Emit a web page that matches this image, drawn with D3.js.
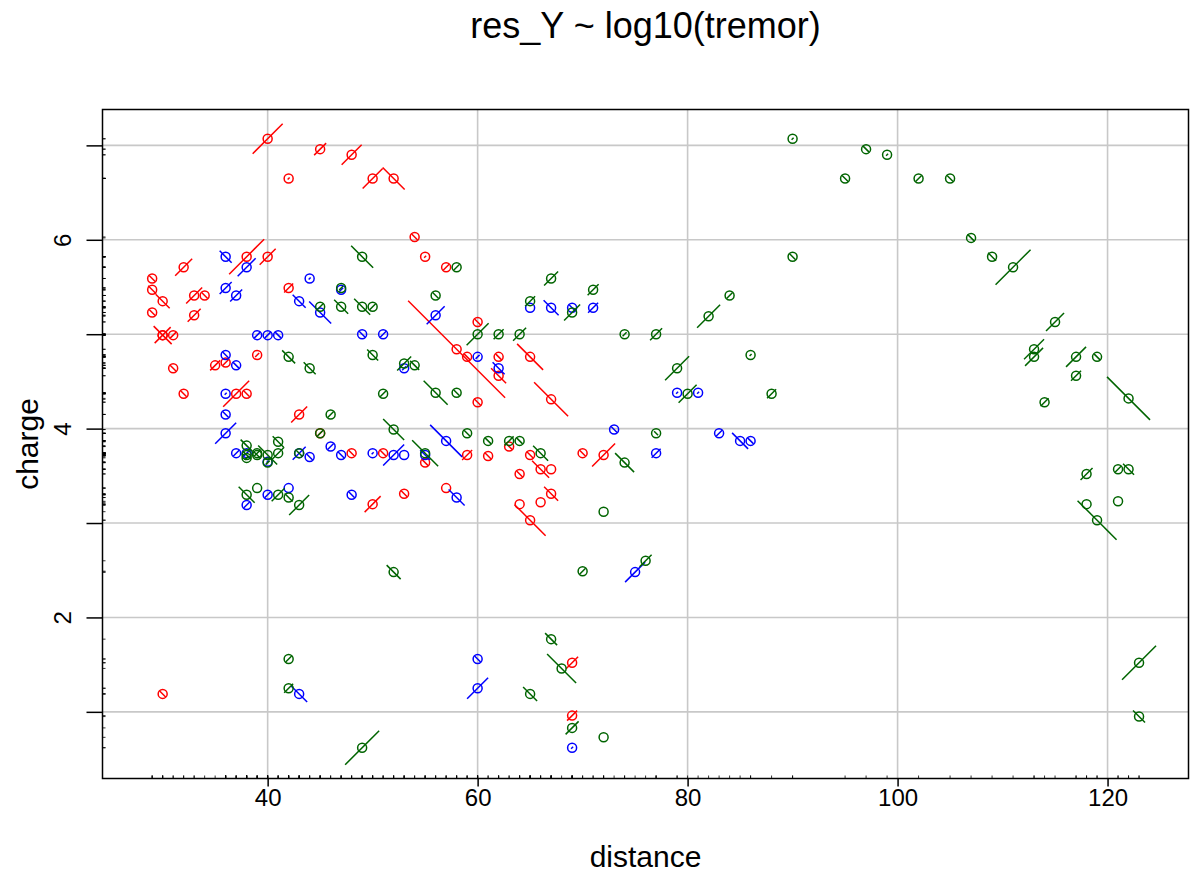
<!DOCTYPE html>
<html>
<head>
<meta charset="utf-8">
<script src="https://cdn.jsdelivr.net/npm/d3@7"></script>
<style>
  body { margin: 0; background: #fff; }
  svg { font-family: "Liberation Sans", Arial, sans-serif; }
</style>
</head>
<body>
<script>
let width = 1194,
    height = 872,
    margin = ({top: 109.5, right: 5.5, bottom: 93.5, left: 102.5});

// [distance, charge, residual]
let seriesRed = [
  [40, 7.07, 1.5], [45, 6.96, 0.6], [48, 6.90, 1.0], [42, 6.65, 0.1], [50, 6.65, 1.0],
  [52, 6.65, -1.1], [54, 6.03, -0.3], [55, 5.82, 0.1], [57, 5.71, 0.3], [38, 5.82, 1.75],
  [40, 5.82, 0.8], [32, 5.71, 0.85], [29, 5.59, -0.3], [29, 5.47, -0.4], [30, 5.35, -0.7],
  [29, 5.23, -0.3], [33, 5.41, 0.8], [34, 5.41, -0.3], [33, 5.20, 0.65], [42, 5.49, 0.45],
  [60, 5.13, -0.3], [30, 4.99, 0.8], [30, 4.99, -0.9], [31, 4.99, 0.3], [36, 4.70, 0.3],
  [35, 4.67, 0.5], [39, 4.78, 0.2], [31, 4.64, -0.3], [32, 4.37, -0.3], [37, 4.37, 1.3],
  [38, 4.37, -0.3], [43, 4.15, 0.8], [45, 3.95, 0.2], [48, 3.74, -0.3], [50, 3.20, 0.8],
  [58, 4.84, -4.85], [59, 4.76, -0.3], [62, 4.76, -0.3], [62, 4.56, -0.75], [65, 4.76, -1.3],
  [60, 4.28, -0.35], [67, 4.31, -1.7], [59, 3.72, 0.5], [61, 3.71, -0.3], [63, 3.81, -0.3],
  [65, 3.72, -0.3], [66, 3.57, -0.85], [67, 3.57, 0], [64, 3.52, -0.3], [70, 3.74, -0.3],
  [72, 3.72, 1.15], [51, 3.74, -0.3], [55, 3.64, -0.3], [53, 3.31, -0.3], [57, 3.37, 0],
  [64, 3.20, 0], [65, 3.03, -1.55], [66, 3.22, 0], [67, 3.31, -0.7], [30, 1.19, -0.3],
  [69, 1.52, 0.6], [69, 0.96, 0.5]
];

let seriesBlue = [
  [36, 5.82, -0.6], [38, 5.71, 0.9], [44, 5.59, 0.1], [47, 5.47, 0.2], [36, 5.49, 0.6],
  [37, 5.41, 0.6], [43, 5.35, -0.65], [45, 5.23, -1.1], [39, 4.99, 0.3], [40, 4.99, 0.3],
  [41, 4.99, -0.3], [49, 5.0, -0.3], [51, 5.0, 0.3], [36, 4.78, -0.3], [37, 4.67, -0.3],
  [36, 4.37, 0.1], [36, 4.15, -0.3], [36, 3.95, 1.05], [37, 3.74, 0.3], [38, 3.74, 0.4],
  [40, 3.65, 0.1], [43, 3.74, 0.65], [44, 3.70, -0.3], [46, 3.81, 0.3], [47, 3.72, -0.3],
  [50, 3.74, 0.1], [38, 3.19, 0.3], [40, 3.30, 0.3], [42, 3.37, 0], [48, 3.30, -0.3],
  [56, 5.20, 0.9], [60, 4.76, 0.2], [62, 4.64, -0.6], [53, 4.64, 0.2], [57, 3.87, -1.6],
  [52, 3.72, 1.05], [53, 3.72, 0], [55, 3.72, -0.5], [58, 3.27, -0.8], [73, 3.99, -0.3],
  [65, 5.28, 0], [67, 5.28, -0.75], [69, 5.28, -0.3], [71, 5.28, 0.5], [79, 4.38, 0.1],
  [81, 4.38, 0.1], [77, 3.74, 0.45], [83, 3.95, 0.3], [85, 3.87, -0.8], [86, 3.87, -0.3],
  [43, 1.19, -0.8], [60, 1.56, -0.3], [60, 1.25, 1.05], [75, 2.48, 1.0], [69, 0.62, 0.1]
];

let seriesGreen = [
  [49, 5.82, -1.1], [47, 5.49, 0.2], [45, 5.29, 0.3], [47, 5.29, -0.7], [49, 5.29, -0.8],
  [50, 5.29, 0.3], [42, 4.76, -0.65], [44, 4.64, -0.6], [50, 4.78, -0.55], [51, 4.37, 0.3],
  [46, 4.15, 0.3], [45, 3.95, 0.3], [38, 3.82, -0.6], [38, 3.72, -0.4], [38, 3.69, 0.2],
  [39, 3.74, 0.3], [39, 3.72, -0.3], [40, 3.72, -0.95], [40, 3.64, 0.2], [41, 3.86, -0.55],
  [41, 3.74, 0.6], [43, 3.74, -0.3], [38, 3.30, -0.8], [39, 3.37, 0], [41, 3.30, 0.65],
  [42, 3.27, -0.4], [43, 3.19, 1.0], [60, 5.0, 1.1], [62, 5.0, 0.5], [64, 5.0, 0.65],
  [74, 5.0, 0.2], [53, 4.69, 0.7], [54, 4.67, -0.45], [56, 4.38, -1.2], [58, 4.38, -0.3],
  [52, 3.99, -1.05], [55, 3.74, -1.3], [59, 3.95, -0.3], [61, 3.87, -0.3], [63, 3.87, 0.45],
  [64, 3.87, -0.3], [66, 3.74, -0.75], [74, 3.64, -0.95], [72, 3.12, 0], [58, 5.71, 0.3],
  [56, 5.41, -0.3], [67, 5.59, 0.7], [71, 5.47, 0.55], [65, 5.35, 0.5], [69, 5.23, 0.8],
  [77, 5.0, 0.6], [82, 5.19, 1.15], [79, 4.64, 1.2], [80, 4.37, 0.9], [90, 5.82, -0.3],
  [84, 5.41, 0.3], [86, 4.78, 0.1], [88, 4.37, 0.45], [77, 3.95, -0.2], [90, 7.07, 0.1],
  [95, 6.65, -0.3], [97, 6.96, -0.3], [99, 6.90, 0.1], [102, 6.65, 0.3], [105, 6.65, -0.3],
  [107, 6.02, -0.35], [109, 5.82, -0.4], [111, 5.71, 1.75], [115, 5.13, 0.9], [113, 4.84, 1.0],
  [113, 4.76, 0.9], [117, 4.76, 1.0], [119, 4.76, -0.3], [117, 4.56, 0.5], [114, 4.28, 0.4],
  [122, 4.32, -2.15], [118, 3.52, 0.6], [121, 3.57, 0.3], [122, 3.57, -0.55], [118, 3.20, 0],
  [121, 3.23, 0], [119, 3.03, -1.95], [123, 1.52, 1.7], [123, 0.95, -0.6], [42, 1.56, 0.3],
  [42, 1.25, 0.45], [49, 0.62, 1.7], [52, 2.48, -0.7], [70, 2.49, 0.3], [76, 2.60, 0.6],
  [67, 1.77, -0.6], [68, 1.46, -1.45], [65, 1.19, -0.7], [69, 0.83, 0.65], [72, 0.73, 0]
];

let xTicks = [40, 60, 80, 100, 120];
let yTicks = [1, 2, 3, 4, 5, 6, 7];
let yLabels = [2, 4, 6];

let groups = [
  {color: "#ff0000", data: seriesRed},
  {color: "#0000ff", data: seriesBlue},
  {color: "#006400", data: seriesGreen}
];

let x = d3.scaleLinear()
    .domain([24.27, 127.71])
    .range([margin.left, width - margin.right]);

let y = d3.scaleLinear()
    .domain([0.294, 7.38])
    .range([height - margin.bottom, margin.top]);

let seg = d3.scaleLinear().domain([0, 1]).range([0, 10]);

const svg = d3.select("body").append("svg")
    .attr("width", width)
    .attr("height", height)
    .attr("viewBox", [0, 0, width, height]);

// grid
svg.append("g")
    .attr("stroke", "#c8c8c8")
    .attr("stroke-width", 1.6)
  .call(g => g.selectAll(".gx").data(xTicks).join("line")
    .attr("class", "gx")
    .attr("x1", d => x(d)).attr("x2", d => x(d))
    .attr("y1", margin.top).attr("y2", height - margin.bottom))
  .call(g => g.selectAll(".gy").data(yTicks).join("line")
    .attr("class", "gy")
    .attr("y1", d => y(d)).attr("y2", d => y(d))
    .attr("x1", margin.left).attr("x2", width - margin.right));

// rug
let allPts = groups.flatMap(g => g.data);
svg.append("g")
    .attr("stroke", "#000")
    .attr("stroke-width", 0.8)
  .call(g => g.selectAll(".rx").data(allPts).join("line")
    .attr("class", "rx")
    .attr("x1", d => x(d[0])).attr("x2", d => x(d[0]))
    .attr("y1", height - margin.bottom).attr("y2", height - margin.bottom - 3))
  .call(g => g.selectAll(".ry").data(allPts).join("line")
    .attr("class", "ry")
    .attr("y1", d => y(d[1])).attr("y2", d => y(d[1]))
    .attr("x1", margin.left).attr("x2", margin.left + 3));

// points with residual segments
groups.forEach(grp => {
  const g = svg.append("g")
      .attr("stroke", grp.color)
      .attr("stroke-width", 1.5)
      .attr("fill", "none");

  g.selectAll("line")
    .data(grp.data.filter(d => d[2] !== 0))
    .join("line")
      .attr("x1", d => x(d[0]) - Math.abs(seg(d[2])))
      .attr("x2", d => x(d[0]) + Math.abs(seg(d[2])))
      .attr("y1", d => y(d[1]) + seg(d[2]))
      .attr("y2", d => y(d[1]) - seg(d[2]));

  g.selectAll("circle")
    .data(grp.data)
    .join("circle")
      .attr("cx", d => x(d[0]))
      .attr("cy", d => y(d[1]))
      .attr("r", 4.5);
});

// axes
svg.append("g")
    .attr("transform", `translate(0,${height - margin.bottom})`)
    .call(d3.axisBottom(x).tickValues(xTicks).tickSize(8).tickPadding(2))
    .call(g => g.select(".domain").remove())
    .call(g => g.selectAll(".tick line").attr("stroke-width", 1.5))
    .call(g => g.selectAll(".tick text")
      .attr("font-size", 24).attr("fill", "#000")
      .attr("font-family", "Liberation Sans, Arial, sans-serif"));

svg.append("g")
    .attr("transform", `translate(${margin.left},0)`)
    .call(d3.axisLeft(y).tickValues(yTicks).tickSize(16).tickFormat(d => yLabels.includes(d) ? d : ""))
    .call(g => g.select(".domain").remove())
    .call(g => g.selectAll(".tick line").attr("stroke-width", 1.5))
    .call(g => g.selectAll(".tick text")
      .attr("font-size", 24).attr("fill", "#000")
      .attr("font-family", "Liberation Sans, Arial, sans-serif")
      .attr("text-anchor", "middle")
      .attr("dy", 0)
      .attr("x", 0)
      .attr("transform", "translate(-32,0) rotate(-90)"));

// frame
svg.append("rect")
    .attr("x", margin.left)
    .attr("y", margin.top)
    .attr("width", width - margin.left - margin.right)
    .attr("height", height - margin.top - margin.bottom)
    .attr("fill", "none")
    .attr("stroke", "#000")
    .attr("stroke-width", 1.5);

// titles
svg.append("text")
    .attr("x", (margin.left + width - margin.right) / 2)
    .attr("y", 38)
    .attr("text-anchor", "middle")
    .attr("font-size", 36)
    .text("res_Y ~ log10(tremor)");

svg.append("text")
    .attr("x", (margin.left + width - margin.right) / 2)
    .attr("y", 867)
    .attr("text-anchor", "middle")
    .attr("font-size", 30)
    .text("distance");

svg.append("text")
    .attr("transform", `translate(38,${(margin.top + height - margin.bottom) / 2}) rotate(-90)`)
    .attr("text-anchor", "middle")
    .attr("font-size", 30)
    .text("charge");
</script>
</body>
</html>
